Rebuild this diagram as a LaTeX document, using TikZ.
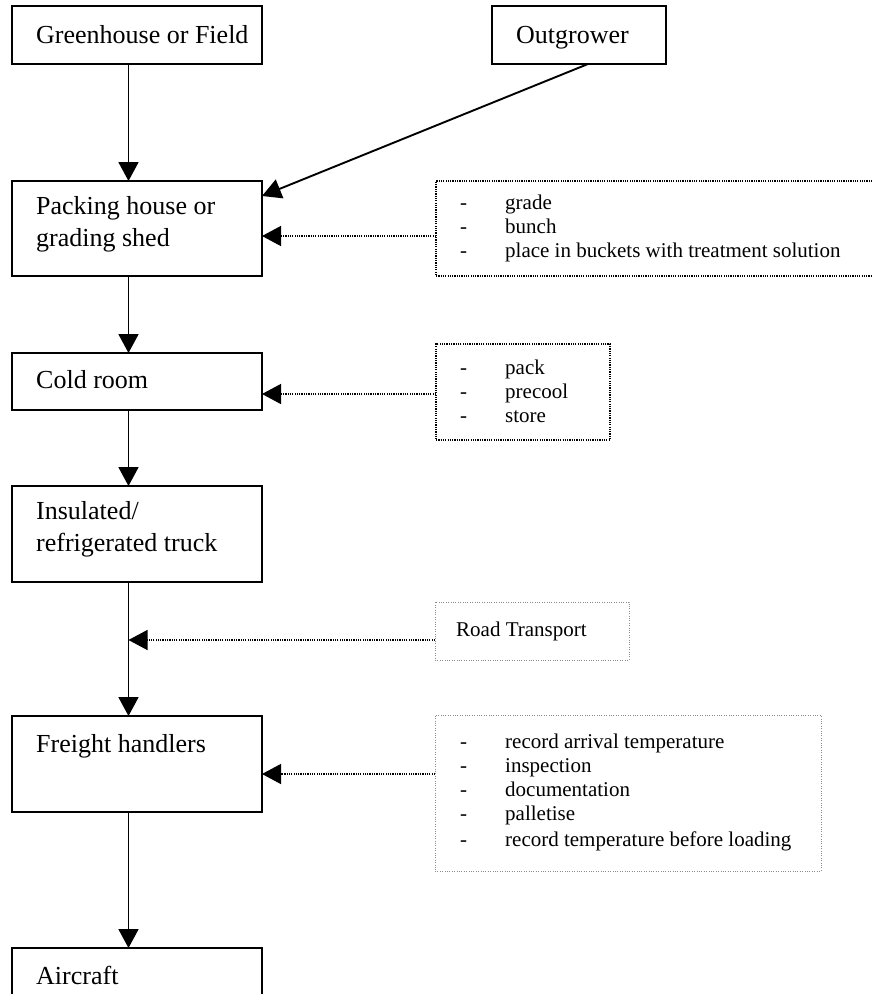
\documentclass[tikz,border=0pt]{standalone}
\usepackage{fontspec}
\setmainfont{Liberation Serif}
\usetikzlibrary{arrows.meta}
\begin{document}
\begin{tikzpicture}[
  box/.style={draw=black, line width=1.9pt, inner sep=0pt, outer sep=0pt, rectangle},
  dotbox/.style={draw=black, line width=1.3pt, dash pattern=on 1.2pt off 1.1pt, inner sep=0pt, outer sep=0pt, rectangle},
  greybox/.style={draw=black!45, line width=0.9pt, dash pattern=on 0.9pt off 1.5pt, inner sep=0pt, outer sep=0pt, rectangle},
  maintxt/.style={inner sep=0pt, anchor=west, align=left, font=\fontsize{26}{32}\selectfont},
  listtxt/.style={inner sep=0pt, anchor=west, align=left, font=\fontsize{21}{24}\selectfont},
  flow/.style={line width=1.9pt, -{Triangle[length=19pt,width=20pt]}},
  dotflow/.style={line width=1.3pt, dash pattern=on 1.2pt off 1.1pt, -{Triangle[length=19pt,width=20pt]}}
]
\useasboundingbox (0,0) rectangle (872pt,-994pt);
\clip (0,0) rectangle (872pt,-994pt);
\fill[white] (0,0) rectangle (872pt,-994pt);

% main boxes
\node[box, minimum width=250pt, minimum height=58pt] (gh) at (137pt,-35pt) {};
\node[box, minimum width=174pt, minimum height=58pt] (out) at (579pt,-35pt) {};
\node[box, minimum width=250pt, minimum height=95pt] (pack) at (137pt,-228.5pt) {};
\node[box, minimum width=250pt, minimum height=57pt] (cold) at (137pt,-381.5pt) {};
\node[box, minimum width=250pt, minimum height=96pt] (truck) at (137pt,-534pt) {};
\node[box, minimum width=250pt, minimum height=96pt] (fr) at (137pt,-764pt) {};
\node[box, minimum width=250pt, minimum height=70pt] (air) at (137pt,-983pt) {};

% main texts
\node[maintxt] (ght) at (36pt,-35pt) {Greenhouse or Field};
\node[maintxt] (outt) at (516pt,-38pt) {Outgrower};
\node[maintxt] (packt) at (36pt,-224pt) {Packing house or\\grading shed};
\node[maintxt] (coldt) at (36pt,-380pt) {Cold room};
\node[maintxt] (truckt) at (36pt,-529pt) {Insulated/\\refrigerated truck};
\node[maintxt] (frt) at (36pt,-746pt) {Freight handlers};
\node[maintxt] (airt) at (36pt,-975pt) {Aircraft};

% side boxes
\node[dotbox, minimum width=442pt, minimum height=95pt] (d1) at (657pt,-228.5pt) {};
\node[dotbox, minimum width=174pt, minimum height=96pt] (d2) at (523pt,-392pt) {};
\node[greybox, minimum width=194pt, minimum height=58pt] (rt) at (532pt,-631pt) {};
\node[greybox, minimum width=386pt, minimum height=156pt] (d4) at (628pt,-793pt) {};

% side texts
\node[listtxt] (d1t) at (460pt,-229pt) {\begin{tabular}{@{}p{45pt}@{}l@{}}-&grade\\-&bunch\\-&place in buckets with treatment solution\end{tabular}};
\node[listtxt] (d2t) at (460pt,-394pt) {\begin{tabular}{@{}p{45pt}@{}l@{}}-&pack\\-&precool\\-&store\end{tabular}};
\node[listtxt, font=\fontsize{21}{24}\selectfont] (rtt) at (456pt,-631pt) {Road Transport};
\node[listtxt] (d4t) at (460pt,-792.5pt) {\begin{tabular}{@{}p{45pt}@{}l@{}}-&record arrival temperature\\-&inspection\\-&documentation\\-&palletise\\[2.5pt]-&record temperature before loading\end{tabular}};

% vertical flow axis
\coordinate (ax) at (128.5pt,0pt);
\draw[flow] (gh.south -| ax) -- (pack.north -| ax);
\draw[flow] (pack.south -| ax) -- (cold.north -| ax);
\draw[flow] (cold.south -| ax) -- (truck.north -| ax);
\draw[flow] (truck.south -| ax) -- (fr.north -| ax);
\draw[flow] (fr.south -| ax) -- (air.north -| ax);
\draw[flow] ([xshift=9pt]out.south) -- ([yshift=-15pt]pack.north east);

% dotted arrows
\coordinate (p1) at ([yshift=-7.5pt]d1.west);
\draw[dotflow] (p1) -- (pack.east |- p1);
\coordinate (p2) at ([yshift=-2pt]d2.west);
\draw[dotflow] (p2) -- (cold.east |- p2);
\coordinate (p3) at ([yshift=-9pt]rt.west);
\draw[dotflow] (p3) -- (ax |- p3);
\coordinate (p4) at ([yshift=19pt]d4.west);
\draw[dotflow] (p4) -- (fr.east |- p4);
\end{tikzpicture}
\end{document}
